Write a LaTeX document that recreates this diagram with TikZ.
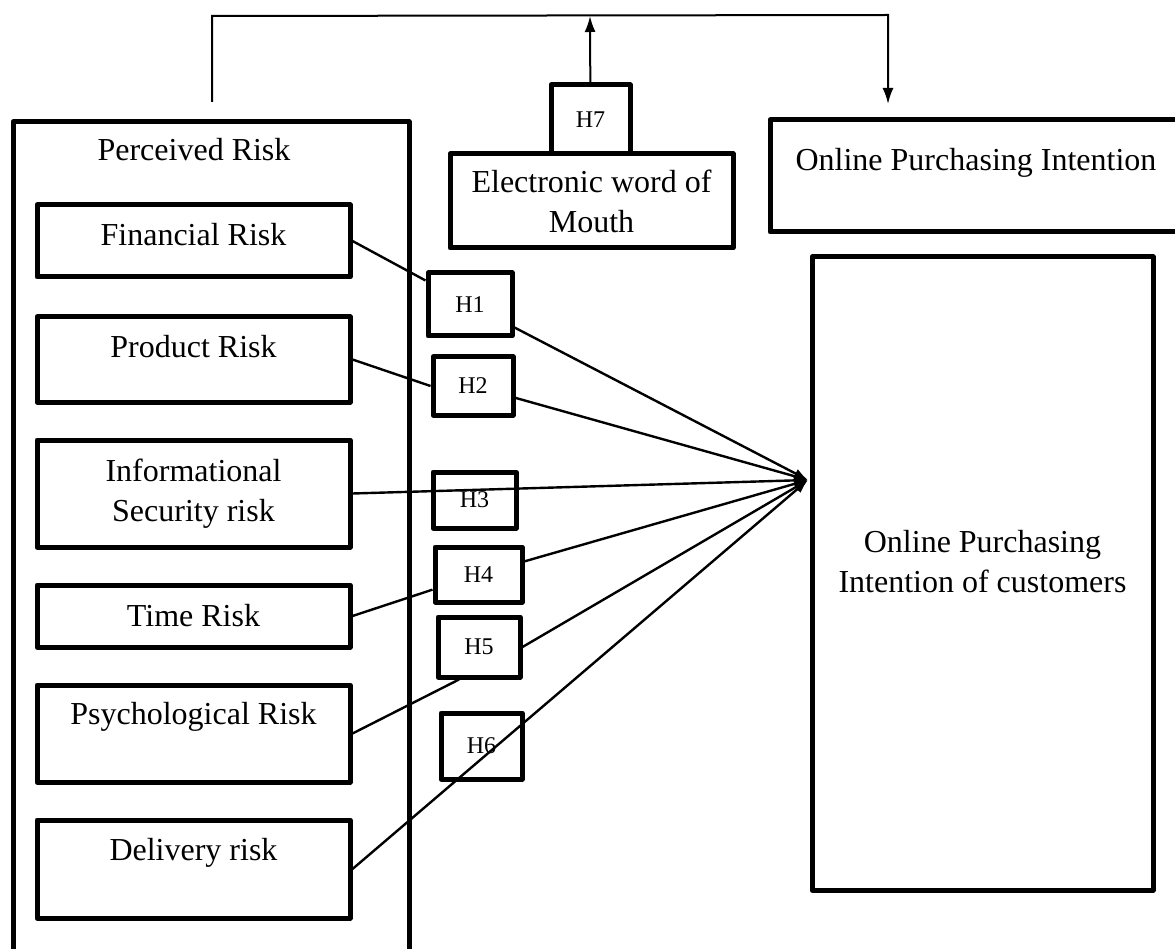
\documentclass[tikz,border=0pt]{standalone}
\usepackage{fontspec}
\setmainfont{Liberation Serif}
\usetikzlibrary{arrows.meta}
\tikzstyle{l1} = [rectangle, draw, line width=5pt, line join=round, align=center, inner sep=0pt, font=\fontsize{32}{40}\selectfont]
\tikzstyle{l2} = [rectangle, draw, line width=5pt, line join=round, inner sep=0pt, font=\fontsize{24}{29}\selectfont]
\tikzstyle{l3} = [align=center, inner sep=0pt, font=\fontsize{32}{40}\selectfont]
\tikzstyle{a1} = [line width=2.4pt, -{Latex[length=14pt,width=10pt]}]

\begin{document}
\begin{tikzpicture}[x=1pt, y=-1pt]
\useasboundingbox (0,0) rectangle (1175,949);
\draw[line width=5pt, line join=round](13,955)--(13,122)--(409,122)--(409,955);
\node(PR)[l3] at (194,150) {Perceived Risk};
\node(FR)[l1, minimum width=313pt, minimum height=72pt] at (193.5,241) {Financial Risk\\[-26pt]~};
\node(PDR)[l1, minimum width=313pt, minimum height=85pt] at (193.5,359.5) {Product Risk\\[-14pt]~};
\node(IR)[l1, minimum width=313pt, minimum height=107pt] at (193.5,493.5) {Informational\\Security risk};
\node(TR)[l1, minimum width=313pt, minimum height=62pt] at (193.5,616) {Time Risk};
\node(PSR)[l1, minimum width=313pt, minimum height=97pt] at (193.5,733.5) {Psychological Risk\\~};
\node(DR)[l1, minimum width=313pt, minimum height=98pt] at (193.5,869) {Delivery risk\\~};

\node(H1)[l2, minimum width=84pt, minimum height=63pt] at (470,304.5) {H1};
\node(H2)[l2, minimum width=80pt, minimum height=58pt] at (473,386) {H2};
\node(H3)[l2, minimum width=83pt, minimum height=56pt] at (474.5,500) {H3};
\node(H4)[l2, minimum width=87pt, minimum height=55pt] at (478.5,574.5) {H4};
\node(H5)[l2, minimum width=82pt, minimum height=60pt] at (479,647) {H5};
\node(H6)[l2, minimum width=81pt, minimum height=66pt] at (481.5,746) {H6};

\node(EW)[l1, minimum width=283pt, minimum height=94pt] at (591.5,201) {Electronic word of\\Mouth};
\node(H7)[l2, minimum width=79pt, minimum height=69pt] at (590.5,119.5) {H7};

\draw[line width=5pt, line join=round](1180,120)--(770,120)--(770,232)--(1180,232);
\node(OPI)[l3] at (976,163) {Online Purchasing Intention};
\node(OC)[l1, minimum width=341pt, minimum height=633pt] at (982.5,573.5) {Online Purchasing\\Intention of customers\\[-16pt]~};

\coordinate(T) at (808,480);
\coordinate(L) at (212,102);
\coordinate(M) at (590,16);
\coordinate(D) at (888,104);

\draw[line width=2.4pt](FR.east)--(H1);
\draw[line width=2.4pt](PDR.east)--(H2.west);
\draw[line width=2.4pt](TR.east)--(H4);
\draw[line width=2.4pt](PSR.east)--([xshift=-20pt]H5.south);
\draw[a1](H1)--(T);
\draw[a1](H2)--(T);
\draw[a1](IR.east)--(T);
\draw[a1](H4)--(T);
\draw[a1](H5.east)--(T);
\draw[a1](DR.east)--(T);

\draw[line width=2pt, -{Latex[length=16pt,width=11pt]}](L)--(212,16)--(888,15)--(D);
\draw[line width=2pt, -{Latex[length=16pt,width=11pt]}](H7)--(M);
\end{tikzpicture}
\end{document}
